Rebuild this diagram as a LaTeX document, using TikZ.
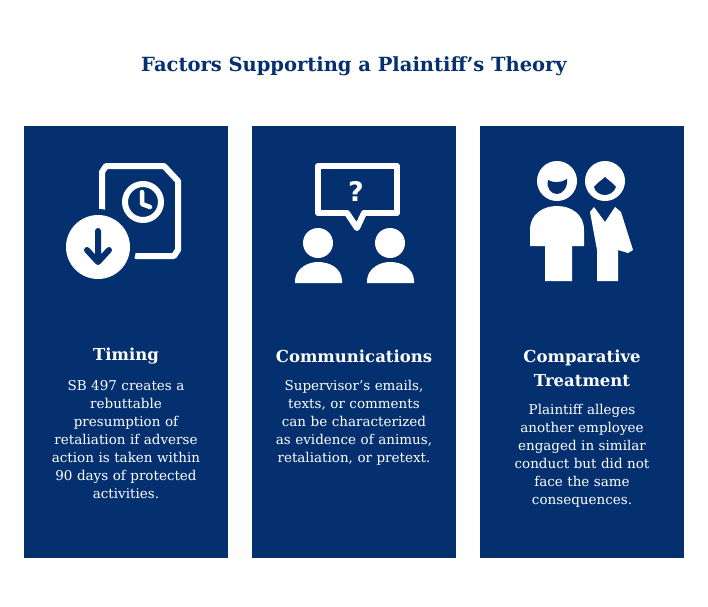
\documentclass[tikz,border=0pt]{standalone}
\usepackage{fontspec}
\setmainfont{DejaVu Serif}
\newfontfamily\qfont{DejaVu Sans}
\begin{document}
\begin{tikzpicture}[x=1pt,y=-1pt,
  panel/.style={fill=navy,draw=none},
  head/.style={text=white,font=\bfseries\fontsize{16.5}{24}\selectfont,align=center},
  body/.style={text=white,font=\fontsize{13.5}{18}\selectfont,align=center,text width=180pt,anchor=north},
  ic/.style={draw=white,line width=6pt,line join=round,line cap=round}]
\definecolor{navy}{HTML}{04306F}
\useasboundingbox (0,0) rectangle (708,606);
\fill[white] (0,0) rectangle (708,606);
\node[text=navy,font=\bfseries\fontsize{19.5}{22}\selectfont] (title) at (354,66) {Factors Supporting a Plaintiff's Theory};
\fill[panel] (24,126) rectangle (228,558);
\fill[panel] (252,126) rectangle (456,558);
\fill[panel] (480,126) rectangle (684,558);
% timing icon
\draw[ic] (102,212) -- (102,172) -- (106,166) -- (164,166) -- (178,181) -- (178,250) -- (174,256) -- (136,256);
\draw[ic] (143,202) circle (18);
\draw[draw=white,line width=4.5pt,line cap=round,line join=round] (142,192) -- (142,204) -- (150,207);
\fill[navy] (98,247) circle (38);
\fill[white] (98,247) circle (32);
\draw[navy,line width=6pt,line cap=round,line join=round] (98,231) -- (98,260) (87,250) -- (98,262) -- (109,250);
% communications icon
\draw[ic] (318,166) rectangle (397,213);
\fill[navy] (347,210) rectangle (363,216);
\draw[ic] (347,213) -- (357,228) -- (364,213);
\node[text=white,font=\qfont\bfseries\fontsize{27}{27}\selectfont] (q) at (356,191) {?};
\fill[white] (318,243) circle (15) (390,243) circle (15);
\fill[white] (295,283) -- (295,280) .. controls (296,268) and (308,262) .. (318,262) .. controls (330,262) and (341,268) .. (342,280) -- (342,283) -- cycle;
\fill[white] (367,283) -- (367,280) .. controls (368,268) and (380,262) .. (390,262) .. controls (402,262) and (413,268) .. (414,280) -- (414,283) -- cycle;
% comparative icon
\fill[white] (557,181) circle (20) (605,181) circle (20);
\fill[navy] (548,180) .. controls (553,183) and (561,183) .. (567,179) .. controls (568,188) and (562,194) .. (557,194) .. controls (551,194) and (546,188) .. (548,180) -- cycle;
\fill[navy] (594,187) .. controls (598,182) and (602,180) .. (605,177) .. controls (608,180) and (612,182) .. (616,187) .. controls (614,193) and (608,195) .. (605,195) .. controls (600,195) and (595,192) .. (594,187) -- cycle;
\fill[white] (530,246) -- (530,230) .. controls (530,214) and (543,206) .. (557,206) .. controls (571,206) and (584,214) .. (584,230) -- (584,246) -- (572,246) -- (572,281) -- (545,281) -- (545,246) -- cycle;
\fill[white] (590,212) -- (594,207) -- (605,222) -- (615,207) -- (621,212) -- (633,250) -- (628,253) -- (618,250) -- (618,281) -- (597,281) -- (597,250) -- cycle;
% texts
\node[head] (h1) at (126,356) {Timing};
\node[body] (b1) at (126,377) {SB 497 creates a\\rebuttable\\presumption of\\retaliation if adverse\\action is taken within\\90 days of protected\\activities.};
\node[head] (h2) at (354,356) {Communications};
\node[body] (b2) at (354,377) {Supervisor's emails,\\texts, or comments\\can be characterized\\as evidence of animus,\\retaliation, or pretext.};
\node[head] (h3) at (582,368) {Comparative\\Treatment};
\node[body] (b3) at (582,401) {Plaintiff alleges\\another employee\\engaged in similar\\conduct but did not\\face the same\\consequences.};
\end{tikzpicture}
\end{document}
